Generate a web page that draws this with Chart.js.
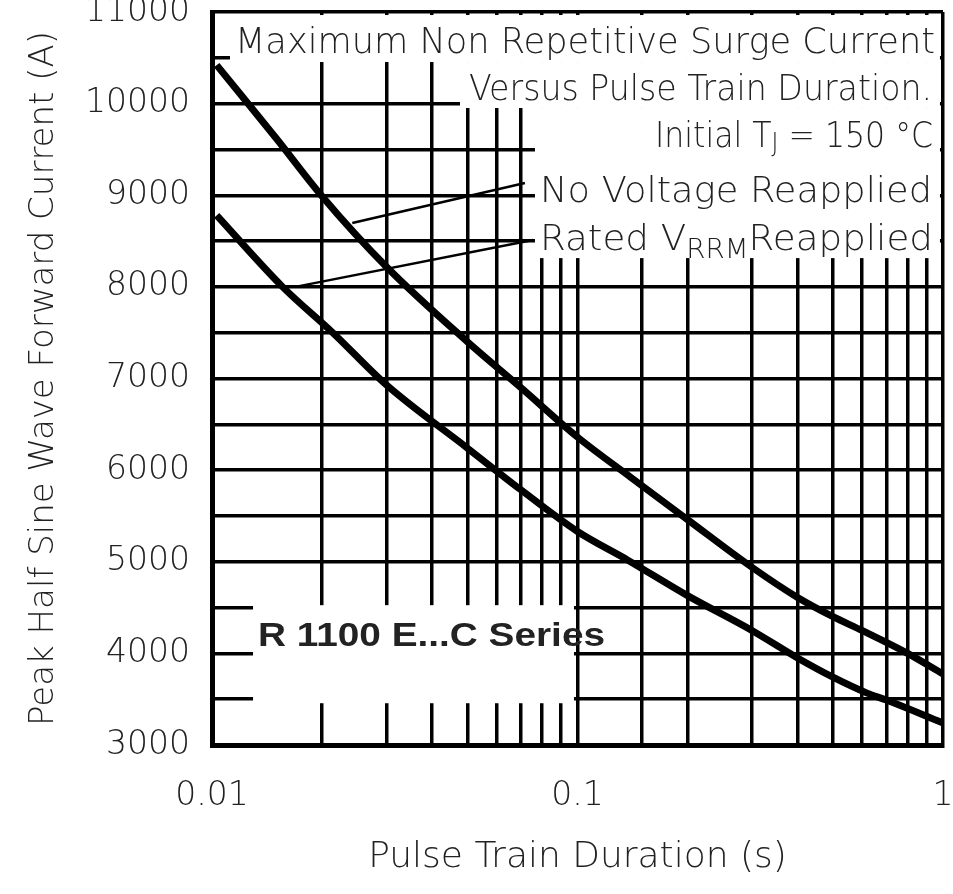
<!DOCTYPE html>
<html>
<head>
<meta charset="utf-8">
<script src="https://cdn.jsdelivr.net/npm/chart.js@4.4.0/dist/chart.umd.min.js"></script>
<style>
html, body { margin: 0; padding: 0; background: #fff; }
canvas { display: block; }
</style>
</head>
<body>
<canvas id="surge-chart" width="953" height="894"></canvas>
<script>
// readings: pulse train duration (s) -> peak current (A)
var noVoltDuration = [0.0103, 0.015, 0.02, 0.03, 0.05, 0.07, 0.1, 0.14, 0.2, 0.3, 0.4, 0.5, 0.6, 0.8, 1];
var noVoltCurrent  = [10420, 9620, 8990, 8220, 7400, 6900, 6360, 5920, 5460, 4940, 4610, 4400, 4250, 4000, 3775];

var ratedDuration = [0.0103, 0.0156, 0.0214, 0.03, 0.05, 0.07, 0.1, 0.137, 0.2, 0.3, 0.4, 0.5, 0.62, 0.7, 1];
var ratedCurrent  = [8780, 8000, 7500, 6930, 6240, 5785, 5330, 5020, 4630, 4250, 3950, 3740, 3566, 3490, 3240];

// leader lines from the labels to the curves
var noVoltLeaderDuration = [0.0242, 0.0718];
var noVoltLeaderCurrent  = [8697, 9133];
var ratedLeaderDuration  = [0.0169, 0.0755];
var ratedLeaderCurrent   = [8000, 8511];

var xTickLabels = [0.01, 0.1, 1];
var yTickLabels = [3000, 4000, 5000, 6000, 7000, 8000, 9000, 10000, 11000];

var family = '"DejaVu Sans", "Liberation Sans", sans-serif';
var ink = '#222';

// white patches where the datasheet text sits over the grid (in data units)
var gridMasks = [
    {x0: 0.0112, x1: 0.981, y0: 10967, y1: 10454},
    {x0: 0.0477, x1: 0.981, y0: 10454, y1: 9952},
    {x0: 0.0765, x1: 0.981, y0: 9952, y1: 8314},
    {x0: 0.01295, x1: 0.0978, y0: 4526, y1: 3456}
];

var mainFont = '200 35px ' + family;
var subFont = '200 26px ' + family;
var notes = [
    {left: 235, right: 935, base: 53, parts: [{text: 'Maximum Non Repetitive Surge Current', font: mainFont}]},
    {left: 469, right: 932, base: 100, parts: [{text: 'Versus Pulse Train Duration.', font: mainFont}]},
    {left: 655, right: 933, base: 147, parts: [
        {text: 'Initial T', font: mainFont},
        {text: 'J', font: subFont, dy: 5},
        {text: ' = 150 °C', font: mainFont}]},
    {left: 540, right: 932, base: 202, parts: [{text: 'No Voltage Reapplied', font: mainFont}]},
    {left: 540, right: 933, base: 250, parts: [
        {text: 'Rated V', font: mainFont},
        {text: 'RRM', font: subFont, dy: 8},
        {text: 'Reapplied', font: mainFont}]},
    {left: 258, right: 605, base: 646, parts: [{text: 'R 1100 E...C Series', font: 'bold 33px "Liberation Sans", Arial, sans-serif'}]}
];

function points(xs, ys) {
    return xs.map(function(x, i) { return {x: x, y: ys[i]}; });
}

function fitText(ctx, note) {
    var total = 0;
    note.parts.forEach(function(p) {
        ctx.font = p.font;
        p.w = ctx.measureText(p.text).width;
        total += p.w;
    });
    var sx = (note.right - note.left) / total;
    ctx.save();
    ctx.translate(note.left, note.base);
    ctx.scale(sx, 1);
    var x = 0;
    note.parts.forEach(function(p) {
        ctx.font = p.font;
        ctx.fillText(p.text, x, p.dy || 0);
        x += p.w;
    });
    ctx.restore();
}

var maskPlugin = {
    id: 'gridMasks',
    beforeDatasetsDraw: function(chart) {
        var ctx = chart.ctx, xs = chart.scales.x, ys = chart.scales.y;
        ctx.save();
        ctx.fillStyle = '#fff';
        gridMasks.forEach(function(m) {
            var l = xs.getPixelForValue(m.x0), r = xs.getPixelForValue(m.x1);
            var t = ys.getPixelForValue(m.y0), b = ys.getPixelForValue(m.y1);
            ctx.fillRect(l, t, r - l, b - t);
        });
        ctx.restore();
    }
};

var notesPlugin = {
    id: 'notes',
    afterDraw: function(chart) {
        var ctx = chart.ctx;
        ctx.save();
        ctx.fillStyle = ink;
        ctx.textBaseline = 'alphabetic';
        ctx.textAlign = 'left';
        notes.forEach(function(n) { fitText(ctx, n); });
        ctx.restore();
    }
};

var curve = {borderColor: '#000', borderWidth: 7, pointRadius: 0, cubicInterpolationMode: 'monotone', fill: false};
var leader = {borderColor: '#000', borderWidth: 2.5, pointRadius: 0, tension: 0, fill: false};

new Chart(document.getElementById('surge-chart'), {
    type: 'line',
    data: {
        datasets: [
            Object.assign({label: 'No Voltage Reapplied', data: points(noVoltDuration, noVoltCurrent)}, curve),
            Object.assign({label: 'Rated VRRM Reapplied', data: points(ratedDuration, ratedCurrent)}, curve),
            Object.assign({label: 'leader 1', data: points(noVoltLeaderDuration, noVoltLeaderCurrent)}, leader),
            Object.assign({label: 'leader 2', data: points(ratedLeaderDuration, ratedLeaderCurrent)}, leader)
        ]
    },
    options: {
        responsive: false,
        animation: false,
        layout: {padding: {top: 12, right: 10, left: 0, bottom: 0}},
        plugins: {legend: {display: false}, tooltip: {enabled: false}},
        scales: {
            x: {
                type: 'logarithmic',
                min: 0.01,
                max: 1,
                afterFit: function(s) {
                    s.height = 149;
                    s.paddingLeft = 0;
                    s.paddingRight = 0;
                },
                grid: {color: '#000', lineWidth: 3.5, drawTicks: false},
                border: {color: '#000', width: 5},
                ticks: {
                    autoSkip: false,
                    maxRotation: 0,
                    padding: 32,
                    color: ink,
                    font: {family: family, size: 33, weight: '200'},
                    callback: function(v) {
                        var hit = xTickLabels.filter(function(t) { return Math.abs(v - t) < t * 1e-6; });
                        return hit.length ? String(hit[0]) : '';
                    }
                },
                title: {
                    display: true,
                    text: 'Pulse Train Duration (s)',
                    color: ink,
                    font: {family: family, size: 36, weight: '200'},
                    padding: {top: 0, bottom: 15}
                }
            },
            y: {
                min: 3000,
                max: 11000,
                afterFit: function(s) {
                    s.width = 212;
                    s.paddingTop = 0;
                    s.paddingBottom = 0;
                },
                grid: {color: '#000', lineWidth: 3.5, drawTicks: false},
                border: {color: '#000', width: 5},
                ticks: {
                    stepSize: 500,
                    autoSkip: false,
                    padding: 22,
                    color: ink,
                    font: {family: family, size: 33, weight: '200'},
                    callback: function(v) { return yTickLabels.indexOf(v) >= 0 ? String(v) : ''; }
                },
                title: {
                    display: true,
                    text: 'Peak Half Sine Wave Forward Current (A)',
                    color: ink,
                    font: {family: family, size: 34, weight: '200'},
                    padding: {top: 24, bottom: 0}
                }
            }
        }
    },
    plugins: [maskPlugin, notesPlugin]
});
</script>
</body>
</html>
